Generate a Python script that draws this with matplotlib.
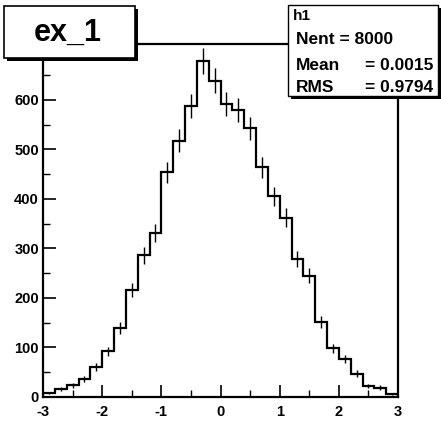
import numpy as np
import matplotlib.pyplot as plt
from matplotlib.patches import Rectangle

plt.rcParams['font.family'] = ['Liberation Sans', 'DejaVu Sans']
plt.rcParams['font.weight'] = 'bold'

# histogram h1: 30 bins from -3 to 3
edges = np.linspace(-3, 3, 31)
counts = [8, 17, 24, 36, 60, 92, 139, 216, 286, 331,
          454, 518, 588, 679, 639, 592, 580, 543, 464, 405,
          362, 279, 245, 151, 98, 77, 47, 22, 19, 6]
x_ticks = [-3, -2, -1, 0, 1, 2, 3]
x_ticklabels = ["-3", "-2", "-1", "0", "1", "2", "3"]
y_ticks = [0, 100, 200, 300, 400, 500, 600]

title = "ex_1"
stats_name = "h1"
stats_rows = [("Mean", "= 0.0015"), ("RMS", "= 0.9794")]
nent_text = "Nent = 8000"

fig = plt.figure(figsize=(4.41, 4.22), dpi=100)
ax = fig.add_axes([43/441, 1-397/422, 355/441, 353/422])

counts = np.array(counts)
ax.stairs(counts, edges, color='black', lw=1.6)
centers = 0.5 * (edges[:-1] + edges[1:])
ax.errorbar(centers, counts, yerr=np.sqrt(counts), fmt='none', ecolor='black',
            elinewidth=1.0, capsize=0)

ax.set_xlim(-3, 3)
ax.set_ylim(0, 713)
ax.set_xticks(x_ticks)
ax.set_xticklabels(x_ticklabels)
ax.set_yticks(y_ticks)
ax.set_xticks(np.arange(-3, 3.01, 0.5), minor=True)
ax.set_yticks(np.arange(0, 701, 50), minor=True)
ax.tick_params(which='major', direction='in', length=9, width=1.2, labelsize=10.5, pad=3)
ax.tick_params(which='minor', direction='in', length=5, width=1.0)
ax.tick_params(axis='x', pad=6)
for lab in ax.get_xticklabels() + ax.get_yticklabels():
    lab.set_fontweight('bold')
for s in ax.spines.values():
    s.set_linewidth(1.6)

# boxes with a ROOT style shadow
def shadow_box(x0, y0, x1, y1, lw):
    W, H = 441, 422
    fig.patches.append(Rectangle((x0/W + 3/W, 1 - y1/H - 3/H), (x1-x0)/W, (y1-y0)/H,
                                 transform=fig.transFigure, facecolor='black',
                                 edgecolor='none', zorder=5))
    fig.patches.append(Rectangle((x0/W, 1 - y1/H), (x1-x0)/W, (y1-y0)/H,
                                 transform=fig.transFigure, facecolor='white',
                                 edgecolor='black', lw=lw, zorder=6))

shadow_box(4, 6, 135, 58, 1.2)
fig.text(68/441, 1-33/422, title, ha='center', va='center', fontsize=22,
         fontweight='bold', zorder=7)

shadow_box(288, 5, 438, 96, 1.0)
fig.text(293/441, 1-16/422, stats_name, ha='left', va='center', fontsize=11,
         fontweight='bold', zorder=7)
fig.text(296/441, 1-40/422, nent_text, ha='left', va='center', fontsize=12.5,
         fontweight='bold', zorder=7)
for i, (k, v) in enumerate(stats_rows):
    yy = 1 - (66 + 22*i)/422
    fig.text(296/441, yy, k, ha='left', va='center', fontsize=12.5,
             fontweight='bold', zorder=7)
    fig.text(365/441, yy, v, ha='left', va='center', fontsize=12.5,
             fontweight='bold', zorder=7)

fig.savefig("out.png", dpi=100)
